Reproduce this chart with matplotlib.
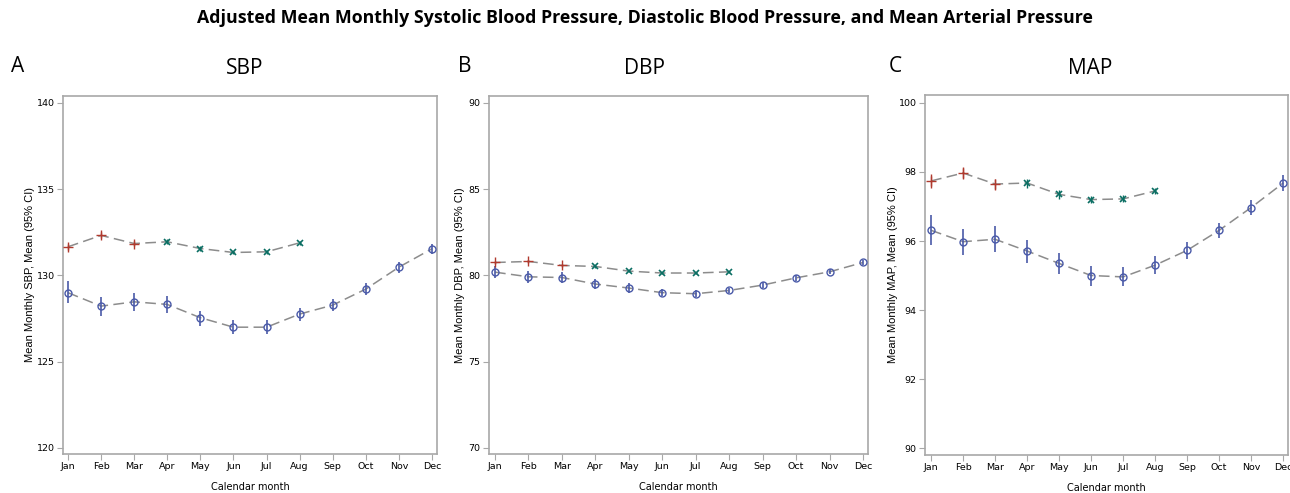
import matplotlib
matplotlib.use("Agg")
import matplotlib.pyplot as plt
from matplotlib import font_manager

W, H = 1290, 493

months = ["Jan", "Feb", "Mar", "Apr", "May", "Jun", "Jul", "Aug", "Sep", "Oct", "Nov", "Dec"]
upper_months_red = [1, 2, 3]
upper_months_teal = [4, 5, 6, 7, 8]

# SBP
sbp_low = [129.0, 128.22, 128.47, 128.32, 127.55, 127.0, 127.0, 127.76, 128.28, 129.21, 130.48, 131.55]
sbp_low_lo = [128.38, 127.66, 127.95, 127.80, 127.08, 126.58, 126.60, 127.37, 127.92, 128.86, 130.15, 131.25]
sbp_low_hi = [129.67, 128.73, 129.00, 128.80, 127.95, 127.41, 127.40, 128.13, 128.63, 129.54, 130.79, 131.85]
sbp_up = [131.66, 132.32, 131.85, 131.95, 131.56, 131.33, 131.37, 131.89]
sbp_up_err = [0.17, 0.17, 0.16, 0.14, 0.12, 0.11, 0.11, 0.12]

# DBP
dbp_low = [80.19, 79.92, 79.88, 79.50, 79.27, 79.00, 78.94, 79.13, 79.44, 79.86, 80.21, 80.75]
dbp_low_lo = [79.86, 79.57, 79.55, 79.21, 79.00, 78.81, 78.73, 78.96, 79.27, 79.70, 80.06, 80.60]
dbp_low_hi = [80.52, 80.27, 80.21, 79.81, 79.54, 79.19, 79.15, 79.30, 79.61, 80.02, 80.36, 80.90]
dbp_up = [80.75, 80.81, 80.58, 80.52, 80.25, 80.14, 80.14, 80.21]
dbp_up_err = [0.09, 0.09, 0.08, 0.08, 0.07, 0.06, 0.06, 0.07]

# MAP
map_low = [96.31, 95.98, 96.05, 95.71, 95.35, 95.00, 94.96, 95.30, 95.73, 96.31, 96.97, 97.68]
map_low_lo = [95.87, 95.60, 95.67, 95.37, 95.04, 94.70, 94.70, 95.04, 95.48, 96.08, 96.74, 97.45]
map_low_hi = [96.74, 96.36, 96.43, 96.04, 95.65, 95.29, 95.24, 95.56, 95.97, 96.53, 97.20, 97.90]
map_up = [97.74, 97.97, 97.65, 97.68, 97.35, 97.20, 97.22, 97.45]
map_up_err = [0.19, 0.18, 0.16, 0.13, 0.12, 0.10, 0.10, 0.10]

panels = [
    dict(letter="A", title="SBP", ylabel="Mean Monthly SBP, Mean (95% CI)",
         low=sbp_low, lo=sbp_low_lo, hi=sbp_low_hi, up=sbp_up, uerr=sbp_up_err,
         yticks=[120, 125, 130, 135, 140], ylim=(119.65, 140.4),
         box=(63, 437, 96, 454), xlim=(0.85, 12.15), title_x=245, letter_x=18, ylab_x=30),
    dict(letter="B", title="DBP", ylabel="Mean Monthly DBP, Mean (95% CI)",
         low=dbp_low, lo=dbp_low_lo, hi=dbp_low_hi, up=dbp_up, uerr=dbp_up_err,
         yticks=[70, 75, 80, 85, 90], ylim=(69.65, 90.4),
         box=(489, 868, 96, 454), xlim=(0.82, 12.15), title_x=645, letter_x=465, ylab_x=460),
    dict(letter="C", title="MAP", ylabel="Mean Monthly MAP, Mean (95% CI)",
         low=map_low, lo=map_low_lo, hi=map_low_hi, up=map_up, uerr=map_up_err,
         yticks=[90, 92, 94, 96, 98, 100], ylim=(89.8, 100.23),
         box=(925, 1288, 95, 455), xlim=(0.81, 12.15), title_x=1090, letter_x=895, ylab_x=893),
]

BLUE = "#4a5aa8"
RED = "#b03a2e"
TEAL = "#0b6e63"
LINE = "#8c8c8c"
FRAME = "#a8a8a8"

fig = plt.figure(figsize=(W / 100, H / 100), dpi=100)
fig.patch.set_facecolor("white")

fig.text(645 / W, 1 - 18 / H,
         "Adjusted Mean Monthly Systolic Blood Pressure, Diastolic Blood Pressure, and Mean Arterial Pressure",
         ha="center", va="center", fontsize=12.8, fontweight="bold", family="Open Sans")

tickfont = "Liberation Sans Narrow" if any("Narrow" in f.name for f in font_manager.fontManager.ttflist) else "Liberation Sans"

x_all = list(range(1, 13))
for p in panels:
    l, r, t, b = p["box"]
    ax = fig.add_axes([l / W, 1 - b / H, (r - l) / W, (b - t) / H])
    ax.set_xlim(*p["xlim"])
    ax.set_ylim(*p["ylim"])
    # lower series
    ax.plot(x_all, p["low"], color=LINE, lw=1.1, dashes=(7, 3.5), zorder=1)
    ax.vlines(x_all, p["lo"], p["hi"], color=BLUE, lw=1.2, zorder=2)
    ax.plot(x_all, p["low"], ls="none", marker="o", ms=5, mfc="none", mec=BLUE, mew=1.0, zorder=3)
    # upper series
    xu = upper_months_red + upper_months_teal
    ax.plot(xu, p["up"], color=LINE, lw=1.1, dashes=(7, 3.5), zorder=1)
    nr = len(upper_months_red)
    ur = p["up"][:nr]
    ut = p["up"][nr:]
    er = p["uerr"][:nr]
    et = p["uerr"][nr:]
    ax.vlines(upper_months_red, [v - e for v, e in zip(ur, er)], [v + e for v, e in zip(ur, er)], color=RED, lw=1.0, zorder=2)
    ax.plot(upper_months_red, ur, ls="none", marker="+", ms=7, mec=RED, mew=1.0, zorder=3)
    ax.vlines(upper_months_teal, [v - e for v, e in zip(ut, et)], [v + e for v, e in zip(ut, et)], color=TEAL, lw=1.0, zorder=2)
    ax.plot(upper_months_teal, ut, ls="none", marker="x", ms=4.5, mec=TEAL, mew=1.2, zorder=3)

    ax.set_xticks(x_all)
    ax.set_xticklabels(months, fontsize=6.8, family=tickfont)
    ax.set_yticks(p["yticks"])
    ax.set_yticklabels([str(v) for v in p["yticks"]], fontsize=6.8, family=tickfont)
    ax.tick_params(length=4, width=0.8, color=FRAME, pad=2)
    for s in ax.spines.values():
        s.set_color(FRAME)
        s.set_linewidth(1.2)
    ax.set_xlabel("Calendar month", fontsize=7, family=tickfont, labelpad=8)

    fig.text(p["ylab_x"] / W, 1 - ((t + b) / 2) / H, p["ylabel"], rotation=90,
             ha="center", va="center", fontsize=8, family="Liberation Sans")
    fig.text(p["title_x"] / W, 1 - 68 / H, p["title"], ha="center", va="center",
             fontsize=15, family="Open Sans")
    fig.text(p["letter_x"] / W, 1 - 66 / H, p["letter"], ha="center", va="center",
             fontsize=15, family="Open Sans")

fig.savefig("out.png", dpi=100, facecolor="white")
